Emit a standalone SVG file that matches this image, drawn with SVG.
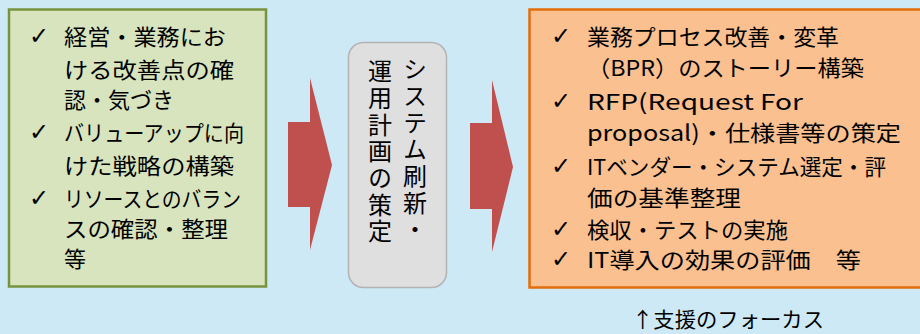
<svg xmlns="http://www.w3.org/2000/svg" width="920" height="334" viewBox="0 0 920 334">
<defs>
<style>
.t{font-family:"Noto Sans CJK JP","Noto Sans",sans-serif;font-size:22px;fill:#000}
.ck{font-family:"DejaVu Sans",sans-serif;font-size:24px;fill:#000}
.v{font-family:"Noto Sans CJK JP",sans-serif;font-size:24px;fill:#000;writing-mode:vertical-rl;letter-spacing:2.7px}
.arrow{fill:#C0504D}
</style>
</defs>
<rect width="920" height="334" fill="#CDE9F5"/>
<g id="connectors">
<polygon class="arrow" points="288,122 310,122 310,78 332,165 310,250 310,207 288,207"/>
<polygon class="arrow" points="470,123 492,123 492,80 513,167 492,252 492,209 470,209"/>
</g>
<g id="current-issues">
<rect x="9" y="9.5" width="257" height="277" fill="#D7E4BD" stroke="#77933C" stroke-width="2.5"/>
<text class="ck" x="29" y="44">✓</text>
<text class="ck" x="29" y="140">✓</text>
<text class="ck" x="29" y="206">✓</text>
<text class="t" x="64" y="45" textLength="162" lengthAdjust="spacingAndGlyphs">経営・業務にお</text>
<text class="t" x="64" y="78" textLength="170" lengthAdjust="spacingAndGlyphs">ける改善点の確</text>
<text class="t" x="64" y="108" textLength="110" lengthAdjust="spacingAndGlyphs">認・気づき</text>
<text class="t" x="64" y="141" textLength="180" lengthAdjust="spacingAndGlyphs">バリューアップに向</text>
<text class="t" x="64" y="174" textLength="170" lengthAdjust="spacingAndGlyphs">けた戦略の構築</text>
<text class="t" x="64" y="207" textLength="177" lengthAdjust="spacingAndGlyphs">リソースとのバラン</text>
<text class="t" x="64" y="237" textLength="164" lengthAdjust="spacingAndGlyphs">スの確認・整理</text>
<text class="t" x="64" y="267">等</text>
</g>
<g id="plan">
<rect x="348.5" y="42.5" width="98" height="245" rx="15" fill="#DFDFDF" stroke="#B3B3B3" stroke-width="1.5"/>
<text class="v" x="415" y="57">システム刷新・</text>
<text class="v" x="380" y="59">運用計画の策定</text>
</g>
<g id="support">
<rect x="529.5" y="9.5" width="400" height="278" fill="#FAC090" stroke="#E46C0A" stroke-width="2.5"/>
<text class="ck" x="551" y="44">✓</text>
<text class="ck" x="551" y="109">✓</text>
<text class="ck" x="551" y="174">✓</text>
<text class="ck" x="551" y="237">✓</text>
<text class="ck" x="551" y="267">✓</text>
<text class="t" x="587" y="45" textLength="252" lengthAdjust="spacingAndGlyphs">業務プロセス改善・変革</text>
<text class="t" x="587" y="76" textLength="277" lengthAdjust="spacingAndGlyphs">（BPR）のストーリー構築</text>
<text class="t" x="587" y="110" textLength="216" lengthAdjust="spacingAndGlyphs">RFP(Request For</text>
<text class="t" x="587" y="141" textLength="314" lengthAdjust="spacingAndGlyphs">proposal)・仕様書等の策定</text>
<text class="t" x="587" y="175" textLength="299" lengthAdjust="spacingAndGlyphs">ITベンダー・システム選定・評</text>
<text class="t" x="587" y="206" textLength="154" lengthAdjust="spacingAndGlyphs">価の基準整理</text>
<text class="t" x="587" y="238" textLength="201" lengthAdjust="spacingAndGlyphs">検収・テストの実施</text>
<text class="t" x="587" y="268" textLength="274" lengthAdjust="spacingAndGlyphs">IT導入の効果の評価　等</text>
</g>
<text class="t" x="632" y="327" style="font-size:21px" textLength="192" lengthAdjust="spacingAndGlyphs">↑支援のフォーカス</text>
</svg>
